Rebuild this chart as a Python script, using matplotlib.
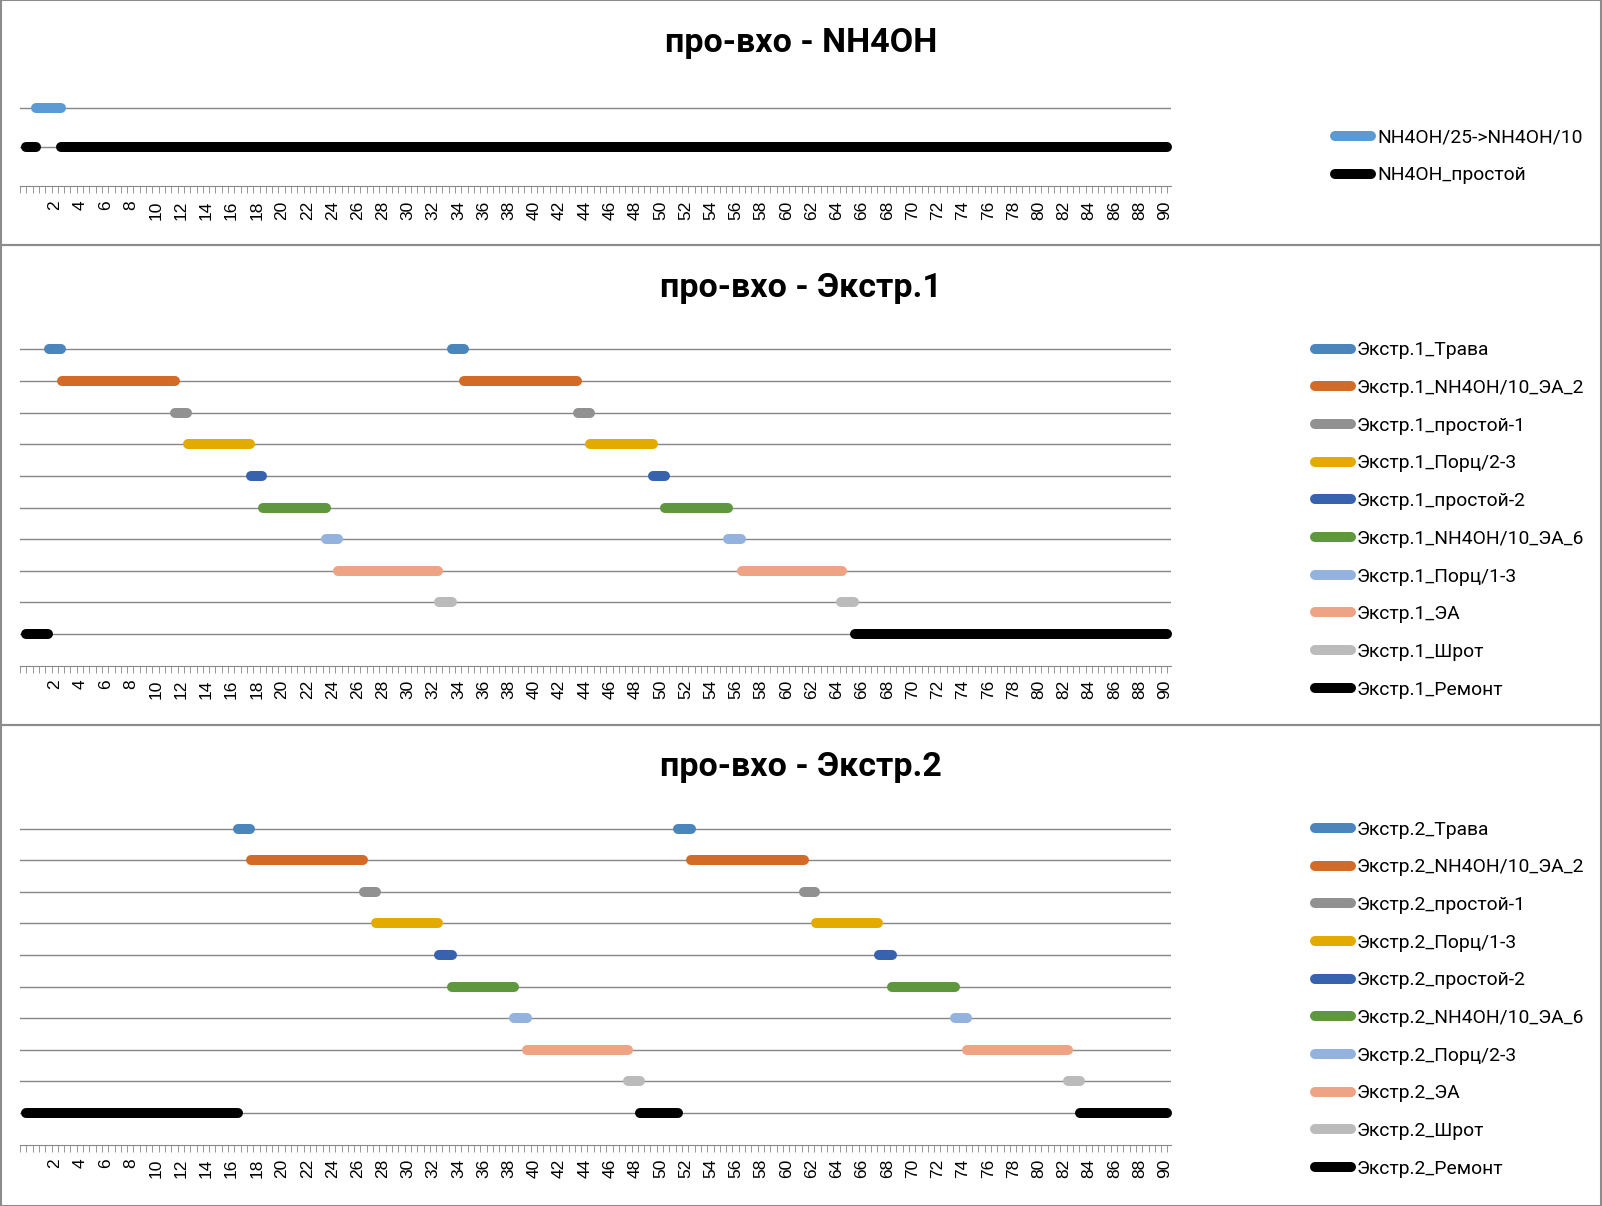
import matplotlib
matplotlib.use("Agg")
import matplotlib.pyplot as plt
from matplotlib.patches import Rectangle
from matplotlib.ticker import FixedLocator
import numpy as np

# данные (сутки)
nh_names = ['NH4OH/25->NH4OH/10', 'NH4OH_простой']
nh_colors = ['#5B9BD5', '#000000']
nh_starts = [[0.5], [-0.33, 2.5]]
nh_ends = [[2.5], [0.5, 90.2]]

e_colors = ['#4A86BC', '#D36B27', '#919191', '#E3AB00', '#3762AE',
            '#5E973D', '#93B3DE', '#EDA384', '#BBBBBB', '#000000']

e1_names = ['Экстр.1_Трава', 'Экстр.1_NH4OH/10_ЭА_2', 'Экстр.1_простой-1',
            'Экстр.1_Порц/2-3', 'Экстр.1_простой-2', 'Экстр.1_NH4OH/10_ЭА_6',
            'Экстр.1_Порц/1-3', 'Экстр.1_ЭА', 'Экстр.1_Шрот', 'Экстр.1_Ремонт']
e1_starts = [[1.5, 33.5], [2.55, 34.45], [11.5, 43.45], [12.55, 44.45],
             [17.5, 49.45], [18.5, 50.4], [23.5, 55.4], [24.45, 56.45],
             [32.45, 64.35], [-0.33, 65.4]]
e1_ends = [[2.5, 34.45], [11.5, 43.4], [12.5, 44.45], [17.45, 49.4],
           [18.45, 50.4], [23.5, 55.35], [24.45, 56.4], [32.4, 64.4],
           [33.45, 65.35], [1.45, 90.2]]

e2_names = ['Экстр.2_Трава', 'Экстр.2_NH4OH/10_ЭА_2', 'Экстр.2_простой-1',
            'Экстр.2_Порц/1-3', 'Экстр.2_простой-2', 'Экстр.2_NH4OH/10_ЭА_6',
            'Экстр.2_Порц/2-3', 'Экстр.2_ЭА', 'Экстр.2_Шрот', 'Экстр.2_Ремонт']
e2_starts = [[16.5, 51.4], [17.5, 52.45], [26.5, 61.4], [27.45, 62.35],
             [32.45, 67.35], [33.5, 68.4], [38.4, 73.4], [39.45, 74.35],
             [47.45, 82.35], [-0.33, 48.4, 83.3]]
e2_ends = [[17.45, 52.4], [26.45, 61.4], [27.45, 62.3], [32.4, 67.3],
           [33.45, 68.35], [38.4, 73.35], [39.45, 74.3], [47.4, 82.35],
           [48.4, 83.3], [16.5, 51.4, 90.2]]

tick_labels = list(range(2, 91, 2))

W, H = 1602, 1206
fig = plt.figure(figsize=(W / 100, H / 100), dpi=100)
plt.rcParams['font.family'] = ['Roboto', 'DejaVu Sans']

GRID = '#878787'
XMIN, XMAX = -0.78, 90.5
LEFT_PX, RIGHT_PX = 20, 1171


def panel(title, names, colors, starts, ends, axis_y, step, title_y, leg_x, leg_y, leg_step):
    n = len(names)
    h = (n + 0.5) * step
    ax = fig.add_axes([LEFT_PX / W, 1 - axis_y / H, (RIGHT_PX - LEFT_PX) / W, h / H])
    ax.set_xlim(XMIN, XMAX)
    ax.set_ylim(0, n + 0.5)
    for i in range(n):
        y = n - i
        ax.axhline(y, color=GRID, lw=1, zorder=1)
        for k, (s, e) in enumerate(zip(starts[i], ends[i])):
            ax.plot([s, e], [y, y], color=colors[i], lw=7.2, solid_capstyle='round',
                    clip_on=False, zorder=3, label=names[i] if k == 0 else None)
    for sp in ['top', 'right', 'left']:
        ax.spines[sp].set_visible(False)
    ax.spines['bottom'].set_color(GRID)
    ax.set_yticks([])
    ax.set_xticks(tick_labels)
    ax.set_xticklabels([str(t) for t in tick_labels], rotation=90,
                       fontsize=12.5, family=['Liberation Sans', 'DejaVu Sans'])
    ax.xaxis.set_minor_locator(FixedLocator(np.arange(XMIN, XMAX + 0.01, 0.5)))
    ax.tick_params(axis='x', which='major', length=0, pad=10)
    ax.tick_params(axis='x', which='minor', length=5, color=GRID)
    fig.text(0.5, 1 - title_y / H, title, ha='center', va='center',
             fontsize=24.5, fontweight='bold')
    fs = 13.9
    fpx = fs * 100 / 72
    ax.legend(loc='center left', bbox_to_anchor=(leg_x / W, 1 - leg_y / H),
              bbox_transform=fig.transFigure, frameon=False, fontsize=fs,
              borderpad=0, borderaxespad=0, handlelength=36 / fpx,
              handletextpad=6 / fpx, labelspacing=(leg_step - fpx) / fpx)
    return ax


panel('про-вхо - NH4OH', nh_names, nh_colors, nh_starts, nh_ends,
      186.5, 39.4, 43, 1335, 156.5, 39)
panel('про-вхо - Экстр.1', e1_names, e_colors, e1_starts, e1_ends,
      665.5, 31.6, 288, 1315, 520, 39.0)
panel('про-вхо - Экстр.2', e2_names, e_colors, e2_starts, e2_ends,
      1144.5, 31.6, 767, 1315, 999.2, 39.0)

# рамки диаграмм
for top, bot in [(0, 245), (245, 725), (725, 1206)]:
    fig.patches.append(Rectangle((1 / W, 1 - bot / H), (W - 2) / W, (bot - top) / H,
                                 transform=fig.transFigure, fill=False,
                                 edgecolor='#8C8C8C', lw=1.5))

fig.savefig('out.png', dpi=100)
